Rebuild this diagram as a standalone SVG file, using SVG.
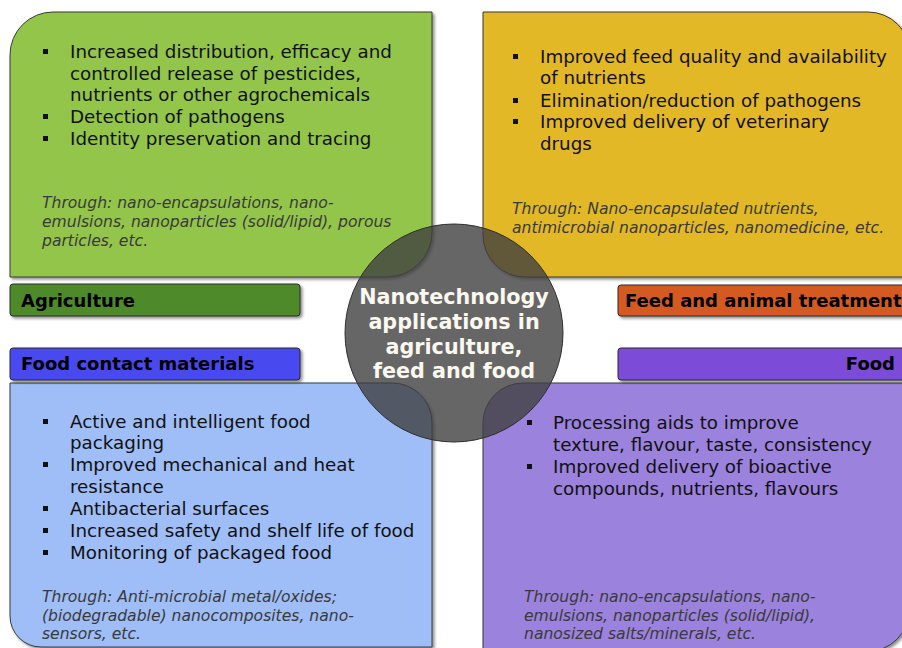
<svg xmlns="http://www.w3.org/2000/svg" width="902" height="648" viewBox="0 0 902 648">
  <defs>
    <filter id="shadow" x="-5%" y="-5%" width="115%" height="120%">
      <feDropShadow dx="2" dy="2" stdDeviation="1.6" flood-color="#000" flood-opacity="0.45"/>
    </filter>
    <style>
      .box { stroke: #3a3a3a; stroke-width: 1; filter: url(#shadow); }
      .tag { stroke: #2a2a2a; stroke-width: 1; filter: url(#shadow); }
      .tagtxt { font-family: "DejaVu Sans", Verdana, sans-serif; font-weight: bold; font-size: 18px; fill: #000; }
      .item { font-family: "DejaVu Sans", Verdana, sans-serif; font-size: 18.3px; fill: #111; }
      .how { font-family: "DejaVu Sans", Verdana, sans-serif; font-style: italic; font-size: 15.6px; fill: #3a3a3a; }
      .dot { fill: #111; }
      .hub { fill: #404040; fill-opacity: 0.8; stroke: #2e2e2e; stroke-width: 1; }
      .hubtxt { font-family: "DejaVu Sans", Verdana, sans-serif; font-weight: bold; font-size: 20.7px; fill: #fbf8ef; text-anchor: middle; }
    </style>
  </defs>

  <rect width="902" height="648" fill="#ffffff"/>

  <!-- Agriculture quadrant -->
  <g id="agriculture">
    <path class="box" fill="#93c54b" d="M10,55 A43,43 0 0 1 53,12 H432 V232 A45,45 0 0 1 387,277 H10 Z"/>
    <rect class="dot" x="43" y="49" width="5" height="5"/>
    <rect class="dot" x="43" y="114" width="5" height="5"/>
    <rect class="dot" x="43" y="136" width="5" height="5"/>
    <text class="item" x="70" y="58">Increased distribution, efficacy and</text>
    <text class="item" x="70" y="80">controlled release of pesticides,</text>
    <text class="item" x="70" y="101">nutrients or other agrochemicals</text>
    <text class="item" x="70" y="123">Detection of pathogens</text>
    <text class="item" x="70" y="145">Identity preservation and tracing</text>
    <text class="how" x="42" y="208">Through: nano-encapsulations, nano-</text>
    <text class="how" x="42" y="227">emulsions, nanoparticles (solid/lipid), porous</text>
    <text class="how" x="42" y="246">particles, etc.</text>
  </g>

  <!-- Feed and animal treatment quadrant -->
  <g id="feed">
    <path class="box" fill="#e3b828" d="M483,12 H868 A42,42 0 0 1 910,54 V277 H525 A42,42 0 0 1 483,235 Z"/>
    <rect class="dot" x="513" y="54" width="5" height="5"/>
    <rect class="dot" x="513" y="98" width="5" height="5"/>
    <rect class="dot" x="513" y="119" width="5" height="5"/>
    <text class="item" x="540" y="63">Improved feed quality and availability</text>
    <text class="item" x="540" y="84">of nutrients</text>
    <text class="item" x="540" y="107">Elimination/reduction of pathogens</text>
    <text class="item" x="540" y="128">Improved delivery of veterinary</text>
    <text class="item" x="540" y="150">drugs</text>
    <text class="how" x="512" y="214">Through: Nano-encapsulated nutrients,</text>
    <text class="how" x="512" y="233">antimicrobial nanoparticles, nanomedicine, etc.</text>
  </g>

  <!-- Food contact materials quadrant -->
  <g id="contact">
    <path class="box" fill="#9fbdf6" d="M10,383 H392 A40,40 0 0 1 432,423 V647 H41 A31,31 0 0 1 10,616 Z"/>
    <rect class="dot" x="43" y="419" width="5" height="5"/>
    <rect class="dot" x="43" y="462" width="5" height="5"/>
    <rect class="dot" x="43" y="506" width="5" height="5"/>
    <rect class="dot" x="43" y="528" width="5" height="5"/>
    <rect class="dot" x="43" y="550" width="5" height="5"/>
    <text class="item" x="70" y="428">Active and intelligent food</text>
    <text class="item" x="70" y="449">packaging</text>
    <text class="item" x="70" y="471">Improved mechanical and heat</text>
    <text class="item" x="70" y="493">resistance</text>
    <text class="item" x="70" y="515">Antibacterial surfaces</text>
    <text class="item" x="70" y="537">Increased safety and shelf life of food</text>
    <text class="item" x="70" y="559">Monitoring of packaged food</text>
    <text class="how" x="42" y="602">Through: Anti-microbial metal/oxides;</text>
    <text class="how" x="42" y="621">(biodegradable) nanocomposites, nano-</text>
    <text class="how" x="42" y="639">sensors, etc.</text>
  </g>

  <!-- Food quadrant -->
  <g id="food">
    <path class="box" fill="#9b82dc" d="M523,383 H910 V608 A44,44 0 0 1 866,652 H483 V423 A40,40 0 0 1 523,383 Z"/>
    <rect class="dot" x="527" y="420" width="5" height="5"/>
    <rect class="dot" x="527" y="464" width="5" height="5"/>
    <text class="item" x="553" y="429">Processing aids to improve</text>
    <text class="item" x="553" y="451">texture, flavour, taste, consistency</text>
    <text class="item" x="553" y="473">Improved delivery of bioactive</text>
    <text class="item" x="553" y="495">compounds, nutrients, flavours</text>
    <text class="how" x="524" y="602">Through: nano-encapsulations, nano-</text>
    <text class="how" x="524" y="621">emulsions, nanoparticles (solid/lipid),</text>
    <text class="how" x="524" y="639">nanosized salts/minerals, etc.</text>
  </g>

  <!-- Category tags -->
  <g id="tag-agriculture">
    <rect class="tag" x="10" y="284" width="290" height="32" rx="3" fill="#4f8a2c"/>
    <text class="tagtxt" x="21" y="307">Agriculture</text>
  </g>
  <g id="tag-contact">
    <rect class="tag" x="10" y="348" width="290" height="32" rx="3" fill="#4848f0"/>
    <text class="tagtxt" x="21" y="370">Food contact materials</text>
  </g>
  <g id="tag-feed">
    <rect class="tag" x="618" y="285" width="300" height="31" rx="3" fill="#d45a22"/>
    <text class="tagtxt" x="625" y="307">Feed and animal treatment</text>
  </g>
  <g id="tag-food">
    <rect class="tag" x="618" y="348" width="300" height="32" rx="3" fill="#7b4bd8"/>
    <text class="tagtxt" x="895" y="370" text-anchor="end">Food</text>
  </g>

  <!-- Central hub -->
  <g id="hub">
    <circle class="hub" cx="454" cy="333" r="109"/>
    <text class="hubtxt" x="454" y="304">Nanotechnology</text>
    <text class="hubtxt" x="454" y="329">applications in</text>
    <text class="hubtxt" x="454" y="354">agriculture,</text>
    <text class="hubtxt" x="454" y="378">feed and food</text>
  </g>

  <g id="connectors"></g>
</svg>
